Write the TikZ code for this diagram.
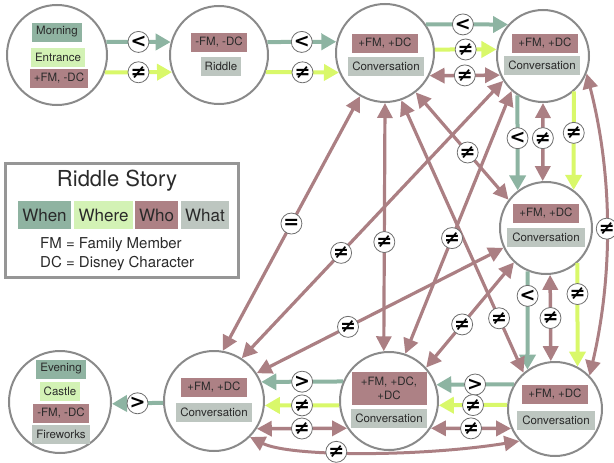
\documentclass[tikz,border=0pt]{standalone}
\usepackage{fontspec}
\setmainfont{TeX Gyre Heros}
\newfontfamily\symf{DejaVu Sans}[BoldFont={DejaVu Sans Bold}]
\usetikzlibrary{arrows.meta}
\definecolor{cWhen}{HTML}{8FB3A1}
\definecolor{cWhere}{HTML}{D3F2B5}
\definecolor{cWho}{HTML}{AD8185}
\definecolor{cWhat}{HTML}{BDC6C0}
\definecolor{aTeal}{HTML}{8DB4A2}
\definecolor{aLime}{HTML}{D9F86A}
\definecolor{aMauve}{HTML}{AB7F83}
\definecolor{cBorder}{HTML}{8A8A8A}
\definecolor{cText}{HTML}{2A2A2A}
\tikzset{
  state/.style={circle, draw=cBorder, line width=2pt, fill=white, inner sep=0pt},
  box/.style={inner xsep=4pt, inner ysep=0pt, minimum height=19pt, text=cText, font=\fontsize{11.5}{13}\selectfont},
  who/.style={box, fill=cWho},
  what/.style={box, fill=cWhat},
  when/.style={box, fill=cWhen},
  where/.style={box, fill=cWhere},
  lab/.style={circle, draw=cBorder!80!black, fill=white, line width=0.8pt, inner sep=0pt, minimum size=21pt, font=\symf\bfseries\fontsize{19}{19}\selectfont},
  tl/.style={draw=aTeal, line width=4pt, -{Triangle[length=15pt,width=16pt]}},
  lm/.style={draw=aLime, line width=4pt, -{Triangle[length=15pt,width=16pt]}},
  mv/.style={draw=aMauve, line width=3.5pt, {Triangle[length=15pt,width=15pt]}-{Triangle[length=15pt,width=15pt]}},
  sw/.style={inner sep=0pt, minimum height=28pt, text=cText, font=\fontsize{17}{19}\selectfont}
}
\begin{document}
\begin{tikzpicture}[x=1pt,y=-1pt]
\useasboundingbox (0,0) rectangle (614,463);
% states
\node[state, minimum size=100pt] (A) at (57,55) {};
\node[state, minimum size=98pt] (B) at (219,55) {};
\node[state, minimum size=98pt] (C) at (385,53) {};
\node[state, minimum size=92pt] (D) at (543,56) {};
\node[state, minimum size=92pt] (E) at (546,228) {};
\node[state, minimum size=94pt] (F) at (555,409) {};
\node[state, minimum size=98pt] (G) at (389,401) {};
\node[state, minimum size=100pt] (H) at (214,401) {};
\node[state, minimum size=102pt] (I) at (60,402) {};
% contents
\node[when] (a1) at (57,32) {Morning};
\node[where] (a2) at (58,57) {Entrance};
\node[who] (a3) at (59,78) {+FM, -DC};
\node[who] (b1) at (219,42) {-FM, -DC};
\node[what] (b2) at (221,66) {Riddle};
\node[who, inner xsep=6pt] (c1) at (385,43) {+FM, +DC};
\node[what] (c2) at (386,66) {Conversation};
\node[who, inner xsep=6pt] (d1) at (545,43) {+FM, +DC};
\node[what] (d2) at (542,65) {Conversation};
\node[who, inner xsep=6pt] (e1) at (546,213) {+FM, +DC};
\node[what, inner xsep=5pt] (e2) at (546,237) {Conversation};
\node[who, inner xsep=6pt] (f1) at (555,394) {+FM, +DC};
\node[what, inner xsep=5pt] (f2) at (556,420) {Conversation};
\node[who, minimum width=75pt, minimum height=33pt, align=center, font=\fontsize{11.5}{14}\selectfont] (g1) at (389,388) {+FM, +DC,\\+DC};
\node[what] (g2) at (389,418) {Conversation};
\node[who, inner xsep=6pt] (h1) at (214,387) {+FM, +DC};
\node[what] (h2) at (214,412) {Conversation};
\node[when] (i1) at (61,369) {Evening};
\node[where] (i2) at (60,391) {Castle};
\node[who] (i3) at (61,413) {-FM, -DC};
\node[what] (i4) at (61,434) {Fireworks};
% legend
\node[draw=cBorder!90, line width=3pt, minimum width=233pt, minimum height=114pt, inner sep=0pt] (leg) at (121.5,220) {};
\node[text=cText, font=\fontsize{22}{24}\selectfont] (lt) at (117,181) {Riddle Story};
\node[sw, fill=cWhen, minimum width=53pt] (s1) at (44.5,215) {When};
\node[sw, fill=cWhere, minimum width=59pt] (s2) at (103.5,215) {Where};
\node[sw, fill=cWho, minimum width=43pt] (s3) at (156.5,215) {Who};
\node[sw, fill=cWhat, minimum width=48pt] (s4) at (205,215) {What};
\node[anchor=west, inner sep=0pt, text=cText, font=\fontsize{15}{17}\selectfont] (fm) at (40,245) {FM = Family Member};
\node[anchor=west, inner sep=0pt, text=cText, font=\fontsize{15}{17}\selectfont] (dc) at (40,264) {DC = Disney Character};
% edges top row
\draw[tl] (A.15) -- coordinate (l1) (B.165);
\draw[lm] (A.-20) -- coordinate (l2) (B.200);
\draw[tl] (B.15) -- coordinate (l3) (C.167);
\draw[lm] (B.-20) -- coordinate (l4) (C.203);
\draw[tl] (C.35) -- coordinate[pos=0.45] (l5) (D.138);
\draw[lm] (C.4) -- coordinate[pos=0.5] (l6) (D.172);
\draw[mv] (C.-27) -- coordinate[pos=0.5] (l7) (D.204);
% right column
\draw[tl] (D.237) -- coordinate[pos=0.45] (l8) (E.127);
\draw[mv] (D.270) -- coordinate[pos=0.45] (l9) (E.94);
\draw[lm] (D.311) -- coordinate[pos=0.42] (l10) (E.54);
\draw[tl] (E.247) -- coordinate[pos=0.25] (l11) (F.125);
\draw[mv] (E.275) -- coordinate[pos=0.5] (l12) (F.95);
\draw[lm] (E.312) -- coordinate[pos=0.3] (l13) (F.62);
% bottom row
\draw[tl] (F.149) -- coordinate (l14) (G.19);
\draw[lm] (F.175) -- coordinate (l15) (G.-5);
\draw[mv] (F.204) -- coordinate (l16) (G.-33);
\draw[tl] (G.157) -- coordinate (l17) (H.22);
\draw[lm] (G.185) -- coordinate (l18) (H.-5);
\draw[mv] (G.213) -- coordinate (l19) (H.-33);
\draw[tl] (H.182) -- coordinate (l20) (I.-2);
% curves
\draw[mv, line width=3pt] (D.-22) .. controls (614,180) and (612,280) .. coordinate[pos=0.5] (l21) (F.44);
\draw[mv, line width=3pt] (H.-45) .. controls (290,457) and (420,457) .. coordinate[pos=0.41] (l22) (F.222);
% diagonals
\draw[mv, line width=3.2pt] (C.240) -- coordinate[pos=0.5] (l23) (H.80);
\draw[mv, line width=3.2pt] (D.212) -- coordinate[pos=0.62] (l24) (H.57);
\draw[mv, line width=3.2pt] (C.270) -- coordinate[pos=0.56] (l25) (G.96);
\draw[mv, line width=3.2pt] (D.228) -- coordinate[pos=0.56] (l26) (G.71);
\draw[mv, line width=3.2pt] (C.308) -- coordinate[pos=0.56] (l27) (E.143);
\draw[mv, line width=3.2pt] (C.289) -- coordinate[pos=0.8] (l28) (F.131);
\draw[mv, line width=3.2pt] (E.227) -- coordinate[pos=0.59] (l29) (G.42);
\draw[mv, line width=3.2pt] (E.205) -- coordinate[pos=0.63] (l30) (H.33);
% labels
\node[lab] at (l1) {<};
\node[lab] at (l2) {≠};
\node[lab] at (l3) {<};
\node[lab] at (l4) {≠};
\node[lab] at (l5) {<};
\node[lab] at (l6) {≠};
\node[lab] at (l7) {≠};
\node[lab] at (l8) {<};
\node[lab] at (l9) {≠};
\node[lab] at (l10) {≠};
\node[lab] at (l11) {<};
\node[lab] at (l12) {≠};
\node[lab] at (l13) {≠};
\node[lab] at (l14) {>};
\node[lab] at (l15) {≠};
\node[lab] at (l16) {≠};
\node[lab] at (l17) {>};
\node[lab] at (l18) {≠};
\node[lab] at (l19) {≠};
\node[lab] at (l20) {>};
\node[lab] at (l21) {≠};
\node[lab] at (l22) {≠};
\node[lab] at (l23) {=};
\node[lab] at (l24) {≠};
\node[lab] at (l25) {≠};
\node[lab] at (l26) {≠};
\node[lab] at (l27) {≠};
\node[lab] at (l28) {≠};
\node[lab] at (l29) {≠};
\node[lab] at (l30) {≠};
\end{tikzpicture}
\end{document}
